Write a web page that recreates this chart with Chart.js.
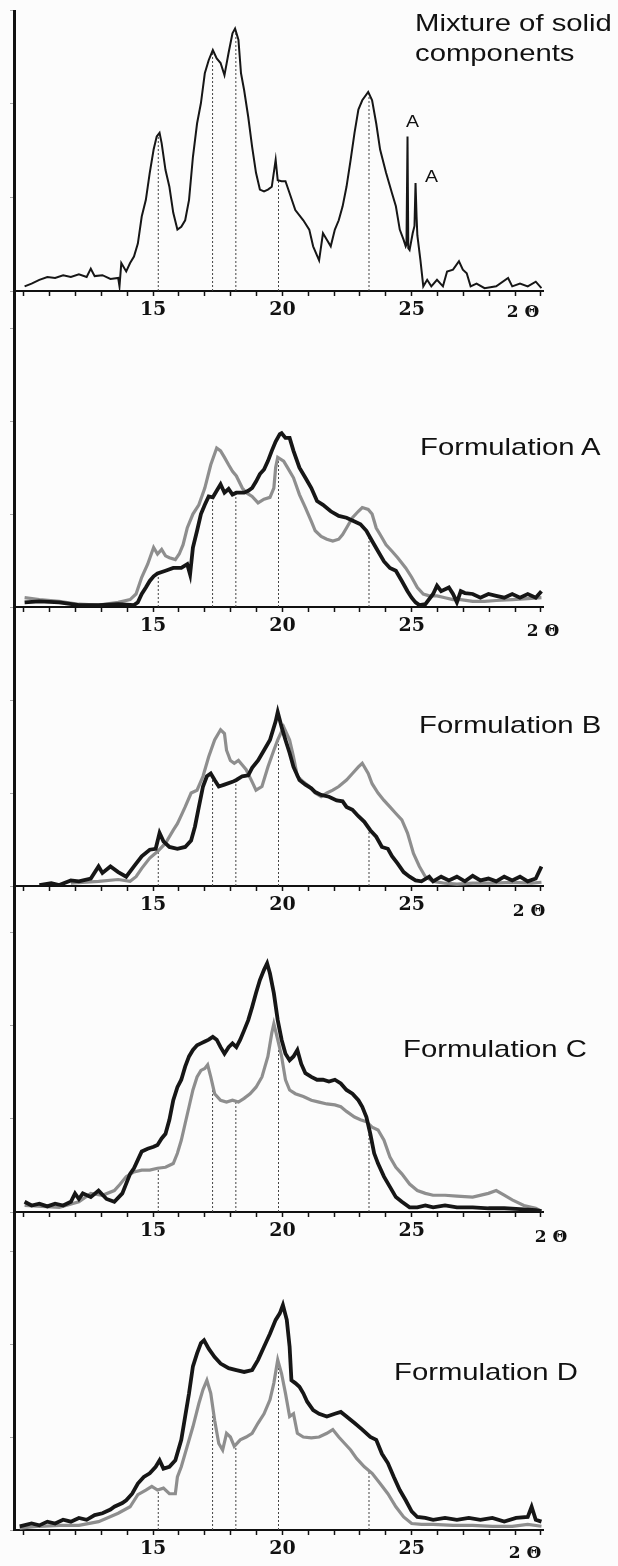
<!DOCTYPE html>
<html>
<head>
<meta charset="utf-8">
<script src="https://cdn.jsdelivr.net/npm/chart.js@4.4.1/dist/chart.umd.min.js"></script>
<style>
  body { margin: 0; background: #fcfcfc; }
  #page { position: relative; width: 618px; height: 1566px; overflow: hidden; }
  canvas { position: absolute; left: 0; }
  .lbl {
    position: absolute; font-family: 'Liberation Sans', Arial, sans-serif; font-size: 24px;
    line-height: 30px; color: #111; white-space: nowrap;
    transform: scaleX(1.22); transform-origin: 0 0;
  }
  .theta {
    position: absolute; font-family: 'DejaVu Serif', serif; font-weight: bold; font-size: 17px;
    line-height: 18px; color: #111; white-space: nowrap; transform: translateX(-50%);
  }
</style>
</head>
<body>
<div id="page">
  <canvas id="p1"></canvas>
  <canvas id="p2"></canvas>
  <canvas id="p3"></canvas>
  <canvas id="p4"></canvas>
  <canvas id="p5"></canvas>

  <div class="lbl" style="left:415px; top:8px;">Mixture of solid<br>components</div>
  <div class="lbl" style="left:420px; top:432px;">Formulation A</div>
  <div class="lbl" style="left:419px; top:710px;">Formulation B</div>
  <div class="lbl" style="left:403px; top:1034px;">Formulation C</div>
  <div class="lbl" style="left:394px; top:1357px;">Formulation D</div>

  <div class="theta" style="left:523px; top:302px;">2 Θ</div>
  <div class="theta" style="left:543px; top:621px;">2 Θ</div>
  <div class="theta" style="left:529px; top:901px;">2 Θ</div>
  <div class="theta" style="left:551px; top:1227px;">2 Θ</div>
  <div class="theta" style="left:525px; top:1543px;">2 Θ</div>
</div>

<script>
// 2-theta positions of the reference reflections (dotted markers)
const refLines = [15.2, 17.3, 18.2, 19.85, 23.35];
const xTickLabels = [15, 20, 25];

// diffraction traces: [2theta, intensity]
const mixture = [[10.03,5],[10.30,8],[10.60,12],[10.91,15],[11.21,14],[11.52,17],[11.82,15],[12.13,18],[12.43,15],[12.59,24],
  [12.74,16],[13.04,17],[13.35,13],[13.65,14],[13.70,5],[13.77,30],[13.96,21],[14.11,30],[14.26,37],[14.41,51],[14.56,80],
  [14.72,98],[14.87,127],[15.02,152],[15.14,166],[15.25,170],[15.33,159],[15.48,130],[15.63,112],[15.78,84],[15.94,66],
  [16.09,69],[16.24,76],[16.39,98],[16.54,144],[16.70,180],[16.85,202],[17.00,234],[17.15,248],[17.31,259],[17.46,250],
  [17.61,245],[17.76,232],[17.92,256],[18.07,277],[18.17,282],[18.30,270],[18.40,234],[18.52,216],[18.68,187],[18.83,155],
  [18.98,127],[19.13,109],[19.29,107],[19.44,109],[19.59,112],[19.74,141],[19.82,119],[19.97,118],[20.12,118],[20.28,105],
  [20.50,87],[20.81,76],[21.04,66],[21.19,48],[21.42,33],[21.57,62],[21.72,55],[21.87,48],[22.03,66],[22.18,76],[22.33,91],
  [22.48,112],[22.64,141],[22.79,170],[22.94,195],[23.09,205],[23.32,214],[23.47,205],[23.63,180],[23.78,152],[24.01,127],
  [24.24,105],[24.39,91],[24.54,66],[24.69,55],[24.77,48],[24.80,50],[24.84,166],[24.87,46],[24.92,44],[25.04,62],[25.11,70],
  [25.15,116],[25.19,80],[25.22,60],[25.34,33],[25.45,5],[25.60,12],[25.76,5],[25.98,12],[26.21,5],[26.37,21],[26.60,23],
  [26.83,32],[26.98,23],[27.13,19],[27.28,5],[27.51,8],[27.82,3],[28.27,5],[28.73,14],[28.89,5],[29.19,8],[29.49,5],
  [29.80,10],[30.02,3]];

const aDark = [[10.03,5],[10.60,6],[11.37,5],[12.13,2],[12.89,2],[13.65,3],[14.26,2],[14.41,5],[14.56,14],[14.72,21],
  [14.87,28],[15.02,33],[15.17,36],[15.48,39],[15.78,42],[16.09,42],[16.32,46],[16.43,35],[16.54,64],[16.70,82],[16.85,100],
  [17.00,110],[17.15,119],[17.31,118],[17.46,125],[17.61,132],[17.76,123],[17.92,127],[18.07,121],[18.22,123],[18.37,123],
  [18.52,123],[18.68,125],[18.83,128],[18.98,135],[19.13,143],[19.29,148],[19.44,157],[19.59,168],[19.74,178],[19.90,186],
  [19.97,187],[20.12,182],[20.28,182],[20.43,168],[20.66,150],[20.89,139],[21.12,128],[21.34,114],[21.57,110],[21.87,103],
  [22.18,98],[22.48,96],[22.79,92],[23.02,89],[23.25,82],[23.47,71],[23.70,60],[23.93,49],[24.16,42],[24.39,39],[24.62,28],
  [24.84,17],[25.00,10],[25.15,5],[25.30,2],[25.53,3],[25.83,14],[25.98,23],[26.14,17],[26.44,21],[26.60,14],[26.75,5],
  [26.90,17],[27.06,15],[27.36,14],[27.66,10],[27.97,14],[28.27,12],[28.58,10],[28.89,14],[29.19,10],[29.49,14],[29.80,10],
  [30.02,17]];
const aGrey = [[10.03,10],[10.60,8],[11.37,6],[12.13,3],[12.89,2],[13.65,5],[14.11,8],[14.34,14],[14.56,32],[14.79,46],
  [15.02,64],[15.17,57],[15.33,62],[15.48,55],[15.63,53],[15.86,51],[16.01,57],[16.16,67],[16.32,85],[16.54,100],[16.77,110],
  [17.00,128],[17.23,153],[17.46,171],[17.61,168],[17.76,161],[17.92,153],[18.07,146],[18.22,141],[18.45,128],[18.60,123],
  [18.83,119],[19.06,112],[19.29,116],[19.52,118],[19.67,128],[19.74,150],[19.82,161],[20.05,157],[20.20,150],[20.43,139],
  [20.66,121],[20.89,107],[21.12,92],[21.27,82],[21.50,76],[21.72,73],[21.95,71],[22.18,73],[22.33,78],[22.48,85],[22.71,96],
  [22.94,103],[23.09,107],[23.32,105],[23.47,100],[23.63,85],[23.78,78],[24.01,67],[24.24,60],[24.46,53],[24.77,42],
  [25.00,32],[25.22,21],[25.45,14],[25.68,12],[25.98,12],[26.29,10],[26.60,8],[26.90,8],[27.36,6],[27.82,6],[28.27,7],
  [28.89,8],[29.49,9],[30.02,10]];

const bDark = [[10.60,1],[11.06,3],[11.37,1],[11.82,6],[12.13,5],[12.59,8],[12.89,21],[13.04,14],[13.35,21],[13.65,15],
  [13.96,10],[14.26,21],[14.56,32],[14.87,39],[15.10,40],[15.25,57],[15.40,48],[15.63,42],[15.94,40],[16.24,42],[16.47,49],
  [16.62,64],[16.77,85],[16.93,107],[17.08,118],[17.23,121],[17.38,114],[17.54,107],[17.76,109],[18.07,112],[18.22,114],
  [18.45,118],[18.68,119],[18.83,127],[19.06,135],[19.29,146],[19.52,157],[19.74,177],[19.82,187],[19.97,171],[20.12,157],
  [20.28,143],[20.43,128],[20.66,114],[20.89,109],[21.12,105],[21.27,101],[21.50,98],[21.80,96],[22.10,92],[22.33,91],
  [22.48,85],[22.71,82],[22.94,75],[23.17,69],[23.40,60],[23.63,53],[23.85,42],[24.08,40],[24.24,32],[24.46,24],[24.69,15],
  [24.92,10],[25.15,6],[25.38,5],[25.68,10],[25.83,5],[26.14,10],[26.44,6],[26.75,10],[27.06,5],[27.36,11],[27.66,6],
  [27.97,8],[28.27,5],[28.58,10],[28.89,6],[29.19,10],[29.49,5],[29.80,8],[30.02,21]];
const bGrey = [[11.82,3],[12.89,5],[13.65,7],[14.11,5],[14.34,10],[14.56,19],[14.87,30],[15.17,37],[15.48,46],[15.78,60],
  [15.94,67],[16.09,76],[16.24,85],[16.47,100],[16.70,103],[16.93,118],[17.15,139],[17.38,157],[17.61,168],[17.76,164],
  [17.84,146],[17.99,135],[18.14,132],[18.30,135],[18.45,130],[18.60,125],[18.83,112],[18.98,103],[19.21,107],[19.44,128],
  [19.67,146],[19.82,157],[20.05,171],[20.28,157],[20.43,139],[20.58,118],[20.81,112],[21.04,107],[21.27,100],[21.50,96],
  [21.72,100],[21.95,103],[22.18,107],[22.48,114],[22.71,121],[22.94,128],[23.09,132],[23.32,121],[23.47,110],[23.70,100],
  [23.93,92],[24.16,85],[24.39,78],[24.62,71],[24.84,57],[25.07,35],[25.30,21],[25.53,10],[25.83,5],[26.29,3],[26.75,2],
  [27.36,3],[28.12,3],[28.89,4],[29.64,3],[30.02,4]];

const cDark = [[10.03,11],[10.30,7],[10.60,9],[10.91,6],[11.21,9],[11.52,7],[11.82,11],[11.98,20],[12.13,14],[12.28,20],
  [12.59,16],[12.89,23],[13.20,14],[13.50,11],[13.81,20],[14.11,41],[14.26,47],[14.41,56],[14.56,65],[14.79,68],[15.02,70],
  [15.17,72],[15.33,79],[15.48,84],[15.63,99],[15.78,120],[15.94,134],[16.09,142],[16.24,156],[16.39,167],[16.54,174],
  [16.70,179],[16.85,181],[17.00,183],[17.15,185],[17.31,188],[17.46,185],[17.61,177],[17.76,170],[17.92,177],[18.07,181],
  [18.22,177],[18.37,185],[18.52,195],[18.68,206],[18.83,220],[18.98,235],[19.13,249],[19.29,260],[19.41,267],[19.52,256],
  [19.67,235],[19.82,206],[19.97,185],[20.12,170],[20.28,163],[20.43,167],[20.58,174],[20.73,159],[20.89,149],[21.12,145],
  [21.34,142],[21.57,142],[21.80,140],[22.03,142],[22.26,138],[22.48,131],[22.71,127],[22.94,120],[23.09,113],[23.25,102],
  [23.40,84],[23.55,63],[23.70,52],[23.93,38],[24.16,27],[24.39,16],[24.62,11],[24.92,5],[25.22,5],[25.53,7],[25.83,5],
  [26.29,7],[26.75,5],[27.36,5],[27.97,4],[28.58,4],[29.19,3],[29.80,2],[30.02,1]];
const cGrey = [[10.03,7],[11.37,5],[12.13,11],[12.59,20],[13.04,18],[13.50,23],[13.73,30],[13.96,38],[14.26,43],[14.56,45],
  [14.87,45],[15.17,47],[15.48,48],[15.78,52],[15.94,63],[16.09,77],[16.24,95],[16.39,113],[16.54,131],[16.70,145],
  [16.85,152],[17.00,154],[17.11,158],[17.23,145],[17.38,127],[17.61,120],[17.84,118],[18.07,120],[18.30,118],[18.52,122],
  [18.75,127],[18.98,134],[19.21,145],[19.44,167],[19.59,192],[19.67,202],[19.82,185],[19.97,167],[20.12,142],[20.28,131],
  [20.50,127],[20.81,124],[21.12,120],[21.42,118],[21.72,116],[22.03,115],[22.26,113],[22.48,108],[22.79,102],[23.02,99],
  [23.25,97],[23.47,91],[23.70,88],[23.93,77],[24.16,59],[24.39,48],[24.62,41],[24.92,30],[25.22,23],[25.53,20],[25.83,18],
  [26.29,18],[26.75,17],[27.36,16],[27.97,20],[28.27,23],[28.58,18],[28.89,13],[29.34,7],[29.80,4],[30.02,1]];

const dDark = [[9.84,4],[10.30,7],[10.60,5],[10.91,9],[11.21,7],[11.52,11],[11.82,9],[12.13,13],[12.43,11],[12.74,16],
  [13.04,18],[13.35,22],[13.50,25],[13.81,29],[13.96,32],[14.19,39],[14.41,50],[14.64,57],[14.87,61],[15.10,68],[15.25,75],
  [15.40,66],[15.63,68],[15.86,75],[16.09,97],[16.24,122],[16.39,147],[16.54,176],[16.70,190],[16.85,201],[16.97,204],
  [17.15,195],[17.38,186],[17.61,179],[17.92,174],[18.22,172],[18.52,170],[18.83,172],[19.06,183],[19.29,197],[19.52,211],
  [19.74,226],[19.90,233],[20.02,242],[20.17,226],[20.28,197],[20.35,161],[20.50,158],[20.66,154],[20.81,147],[20.96,138],
  [21.19,129],[21.42,125],[21.72,122],[22.03,125],[22.26,127],[22.48,122],[22.79,115],[23.09,108],[23.40,100],[23.63,97],
  [23.85,82],[24.08,72],[24.31,57],[24.54,43],[24.77,32],[25.00,20],[25.22,14],[25.53,13],[25.83,11],[26.29,13],[26.75,11],
  [27.21,13],[27.66,11],[28.12,13],[28.58,9],[29.04,13],[29.49,14],[29.64,25],[29.80,11],[30.02,9]];
const dGrey = [[9.84,2],[10.60,4],[11.37,5],[12.13,5],[12.89,9],[13.65,18],[14.11,25],[14.41,38],[14.72,43],[14.95,47],
  [15.17,43],[15.40,45],[15.63,39],[15.86,39],[15.94,57],[16.09,68],[16.32,90],[16.54,111],[16.77,136],[16.93,151],
  [17.08,161],[17.23,147],[17.38,118],[17.54,93],[17.69,86],[17.84,104],[17.99,100],[18.14,90],[18.37,97],[18.60,100],
  [18.83,104],[19.06,115],[19.29,125],[19.52,140],[19.67,158],[19.82,183],[19.97,168],[20.12,147],[20.28,122],[20.43,125],
  [20.58,104],[20.81,100],[21.12,99],[21.42,100],[21.72,104],[21.95,108],[22.18,100],[22.41,93],[22.64,86],[22.87,77],
  [23.17,68],[23.47,61],[23.78,50],[24.08,39],[24.39,25],[24.69,14],[25.00,7],[25.38,6],[25.83,6],[26.60,5],[27.36,5],
  [28.12,4],[28.89,4],[29.49,6],[30.02,4]];

// peaks of the sharp A reflections in the mixture trace
const aPeaks = [24.84, 25.15];

const DARK = '#161616', GREY = '#8e8e8e';

// linear interpolation along a trace
function level(curve, t) {
  for (let i = 1; i < curve.length; i++) {
    if (curve[i][0] >= t) {
      const [x0, y0] = curve[i - 1], [x1, y1] = curve[i];
      return y0 + (y1 - y0) * (t - x0) / (x1 - x0);
    }
  }
  return 0;
}

function pts(curve) {
  return curve.map(p => ({ x: p[0], y: p[1] }));
}

// little "A" tags above the sharp peaks
const peakTags = {
  id: 'peakTags',
  afterDatasetsDraw(chart, args, opts) {
    if (!opts.items) return;
    const ctx = chart.ctx, xs = chart.scales.x, ys = chart.scales.y;
    ctx.save();
    ctx.fillStyle = '#111';
    ctx.font = '16px "Liberation Sans", Arial, sans-serif';
    ctx.textAlign = 'center';
    ctx.textBaseline = 'middle';
    opts.items.forEach(it => {
      const px = xs.getPixelForValue(it.at) + it.dx;
      const py = ys.getPixelForValue(level(opts.curve, it.at)) + it.dy;
      ctx.save();
      ctx.translate(px, py);
      ctx.scale(1.22, 1);
      ctx.fillText(it.text, 0, 0);
      ctx.restore();
    });
    ctx.restore();
  }
};

function makePanel(id, top, h, ymax, traces, tags) {
  const cv = document.getElementById(id);
  cv.width = 618;
  cv.height = h + 40;
  cv.style.top = top + 'px';

  const low = t => Math.min(...traces.map(tr => level(tr.data, t)));
  const datasets = traces.map(tr => ({
    data: pts(tr.data), borderColor: tr.color, borderWidth: tr.width,
    pointRadius: 0, tension: 0, fill: false
  }));
  refLines.forEach(r => datasets.push({
    data: [{ x: r, y: 0 }, { x: r, y: low(r) }],
    borderColor: '#444', borderWidth: 1, borderDash: [2, 2], pointRadius: 0
  }));

  new Chart(cv, {
    type: 'line',
    data: { datasets },
    options: {
      responsive: false,
      animation: false,
      events: [],
      layout: { padding: { left: 0, right: 75, top: 0, bottom: 0 } },
      plugins: {
        legend: { display: false },
        tooltip: { enabled: false },
        peakTags: tags || {}
      },
      scales: {
        x: {
          type: 'linear', min: 9.62, max: 30.08,
          border: { color: '#111', width: 2 },
          grid: { drawOnChartArea: false, drawTicks: true, tickLength: 5, tickColor: '#111', tickWidth: 1.5 },
          ticks: {
            stepSize: 1, includeBounds: false, autoSkip: false, maxRotation: 0, padding: 3,
            color: '#111', font: { family: 'DejaVu Serif', weight: 'bold', size: 19 },
            callback: v => xTickLabels.includes(v) ? String(v) : ''
          },
          afterFit: s => { s.height = 40; }
        },
        y: {
          min: 0, max: ymax,
          border: { color: '#111', width: 3 },
          grid: { drawOnChartArea: false, tickLength: 4, tickColor: '#aaa', tickWidth: 1 },
          ticks: { display: false, stepSize: 100 },
          afterFit: s => { s.width = 14; }
        }
      }
    },
    plugins: [peakTags]
  });
}

makePanel('p1', 10, 281, 302, [{ data: mixture, color: DARK, width: 2 }], {
  curve: mixture,
  items: [
    { at: aPeaks[0], text: 'A', dx: 5, dy: -14 },
    { at: aPeaks[1], text: 'A', dx: 16, dy: -5 }
  ]
});
makePanel('p2', 291, 316, 340, [{ data: aDark, color: DARK, width: 3.8 }, { data: aGrey, color: GREY, width: 3.2 }]);
makePanel('p3', 607, 279, 300, [{ data: bDark, color: DARK, width: 3.8 }, { data: bGrey, color: GREY, width: 3.2 }]);
makePanel('p4', 886, 326, 350, [{ data: cDark, color: DARK, width: 3.8 }, { data: cGrey, color: GREY, width: 3.2 }]);
makePanel('p5', 1212, 318, 342, [{ data: dDark, color: DARK, width: 3.8 }, { data: dGrey, color: GREY, width: 3.2 }]);
</script>
</body>
</html>
